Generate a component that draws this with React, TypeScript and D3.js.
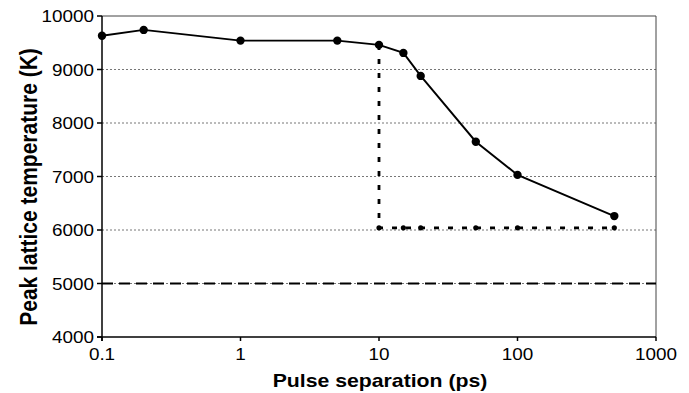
import React from "react";
import * as d3 from "d3";

// Peak lattice temperature versus pulse separation
const separations = [0.1, 0.2, 1, 5, 10, 15, 20, 50, 100, 500];
const peakTemps = [9630, 9740, 9540, 9540, 9460, 9310, 8880, 7650, 7030, 6260];

// Saturation branch: drop at 10 ps, then flat level
const satSeparations = [10, 15, 20, 50, 100, 500];
const satLevel = 6040;
const satStartTemp = 9460;

const thresholdTemp = 5000;

const xTicks = [0.1, 1, 10, 100, 1000];
const xTickLabels = ["0.1", "1", "10", "100", "1000"];
const yTicks = [4000, 5000, 6000, 7000, 8000, 9000, 10000];
const gridTemps = [5000, 6000, 7000, 8000, 9000];

const W = 689;
const H = 393;
const M = { left: 102, right: 656, top: 16, bottom: 337 };
const FONT = "'Liberation Sans', Arial, sans-serif";
const SX = 1.18;

export default function App() {
  const x = d3.scaleLog().domain([0.1, 1000]).range([M.left, M.right]);
  const y = d3.scaleLinear().domain([4000, 10000]).range([M.bottom, M.top]);

  const mainLine = d3
    .line<number>()
    .x((_, i) => x(separations[i]))
    .y((d) => y(d))(peakTemps) as string;

  const satPts: [number, number][] = [
    [satSeparations[0], satStartTemp],
    ...satSeparations.map((s) => [s, satLevel] as [number, number]),
  ];
  const satLine = d3
    .line<[number, number]>()
    .x((d) => x(d[0]))
    .y((d) => y(d[1]))(satPts) as string;

  const yTitleY = 187;

  return (
    <svg
      width={W}
      height={H}
      style={{ position: "absolute", left: 0, top: 0, background: "#fff" }}
    >
      {/* gridlines */}
      {gridTemps.map((t) => (
        <line
          key={t}
          x1={M.left}
          x2={M.right}
          y1={y(t)}
          y2={y(t)}
          stroke="#777"
          strokeWidth={1}
          strokeDasharray="2,2"
        />
      ))}

      {/* frame */}
      <line x1={M.left} x2={M.right} y1={M.top} y2={M.top} stroke="#444" strokeWidth={1} />
      <line x1={M.right} x2={M.right} y1={M.top} y2={M.bottom} stroke="#444" strokeWidth={1} />
      <line x1={M.left} x2={M.left} y1={M.top} y2={M.bottom + 4} stroke="#000" strokeWidth={1.5} />
      <line x1={M.left - 5} x2={M.right} y1={M.bottom} y2={M.bottom} stroke="#000" strokeWidth={1.5} />

      {/* threshold line */}
      <line
        x1={M.left}
        x2={M.right}
        y1={y(thresholdTemp)}
        y2={y(thresholdTemp)}
        stroke="#000"
        strokeWidth={2}
        strokeDasharray="11,6"
      />

      {/* y ticks and labels */}
      {yTicks.map((t) => (
        <g key={t}>
          <line x1={M.left - 5} x2={M.left} y1={y(t)} y2={y(t)} stroke="#000" strokeWidth={1.5} />
          <text
            transform={`translate(${M.left - 8},${y(t) + 6}) scale(${SX},1)`}
            textAnchor="end"
            fontFamily={FONT}
            fontSize={16}
            fill="#000"
          >
            {t}
          </text>
        </g>
      ))}

      {/* x ticks and labels */}
      {xTicks.map((t, i) => (
        <g key={t}>
          <line x1={x(t)} x2={x(t)} y1={M.bottom} y2={M.bottom + 4} stroke="#000" strokeWidth={1.5} />
          <text
            transform={`translate(${x(t)},${M.bottom + 23}) scale(${SX},1)`}
            textAnchor="middle"
            fontFamily={FONT}
            fontSize={16}
            fill="#000"
          >
            {xTickLabels[i]}
          </text>
        </g>
      ))}

      {/* saturation branch */}
      <path d={satLine} fill="none" stroke="#000" strokeWidth={2.8} strokeDasharray="5,9" />
      {satSeparations.map((s) => (
        <circle key={s} cx={x(s)} cy={y(satLevel)} r={2.6} fill="#000" />
      ))}

      {/* main series */}
      <path d={mainLine} fill="none" stroke="#000" strokeWidth={1.9} />
      {separations.map((s, i) => (
        <circle key={s} cx={x(s)} cy={y(peakTemps[i])} r={4.2} fill="#000" />
      ))}

      {/* axis titles */}
      <text
        transform={`translate(${(M.left + M.right) / 2 + 1},${H - 6}) scale(${SX},1)`}
        textAnchor="middle"
        fontFamily={FONT}
        fontWeight="bold"
        fontSize={18}
        fill="#000"
      >
        Pulse separation (ps)
      </text>
      <text
        transform={`translate(37,${yTitleY}) scale(${SX},1) rotate(-90)`}
        textAnchor="middle"
        fontFamily={FONT}
        fontWeight="bold"
        fontSize={21}
        fill="#000"
      >
        Peak lattice temperature (K)
      </text>
    </svg>
  );
}
